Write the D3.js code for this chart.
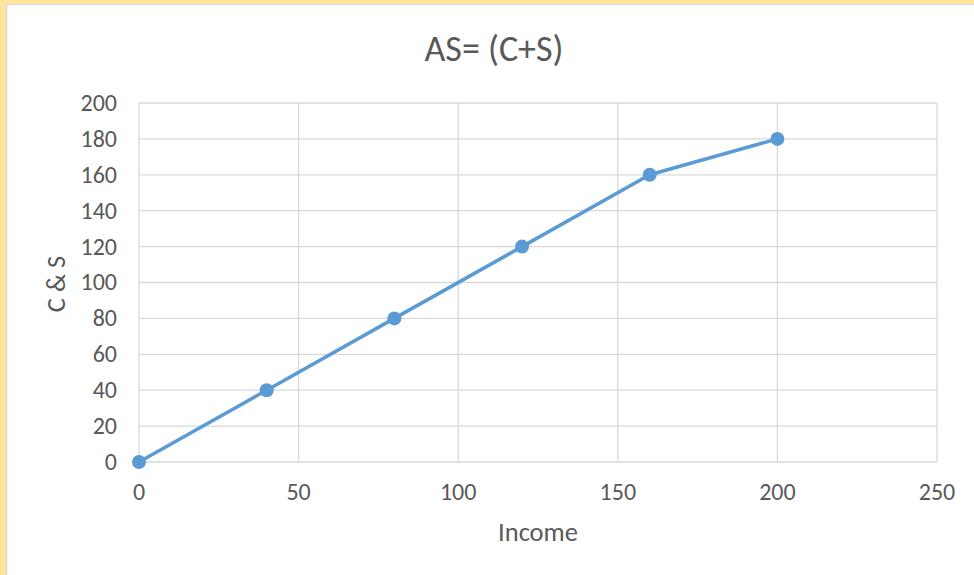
<!DOCTYPE html>
<html>
<head>
<meta charset="utf-8">
<script src="https://cdn.jsdelivr.net/npm/d3@7"></script>
<style>
  body { margin: 0; background: #fff; }
  svg text { font-family: Carlito, Calibri, "Open Sans", "Liberation Sans", sans-serif; fill: #595959; }
</style>
</head>
<body>
<svg id="chart" width="974" height="575"></svg>
<script>
// data
const income = [0, 40, 80, 120, 160, 200]
const cs = [0, 40, 80, 120, 160, 180]
const xTicks = [0, 50, 100, 150, 200, 250]
const yTicks = [0, 20, 40, 60, 80, 100, 120, 140, 160, 180, 200]

const svg = d3.select('#chart')

// outer frame
svg.append('rect').attr('x', 0).attr('y', 0).attr('width', 974).attr('height', 575).attr('fill', '#FFE699')
svg.append('rect').attr('x', 6.5).attr('y', 4.5).attr('width', 980).attr('height', 590)
    .attr('fill', '#fff').attr('stroke', '#d9d9d9').attr('stroke-width', 1.5)

const plotL = 139, plotR = 937, plotT = 103, plotB = 462

const x = d3.scaleLinear().domain([0, 250]).range([plotL, plotR])
const y = d3.scaleLinear().domain([0, 200]).range([plotB, plotT])

// gridlines
svg.append('g').selectAll('line').data(yTicks).enter().append('line')
    .attr('x1', plotL).attr('x2', plotR)
    .attr('y1', d => y(d)).attr('y2', d => y(d))
    .attr('stroke', '#d9d9d9').attr('stroke-width', 1.3)

svg.append('g').selectAll('line').data(xTicks).enter().append('line')
    .attr('y1', plotT).attr('y2', plotB)
    .attr('x1', d => x(d)).attr('x2', d => x(d))
    .attr('stroke', '#d9d9d9').attr('stroke-width', 1.3)

// tick labels
svg.append('g').selectAll('text').data(yTicks).enter().append('text')
    .attr('x', plotL - 22).attr('y', d => y(d))
    .attr('dy', '0.33em').attr('text-anchor', 'end')
    .attr('font-size', 24).text(d => d)

svg.append('g').selectAll('text').data(xTicks).enter().append('text')
    .attr('x', d => x(d)).attr('y', plotB + 38)
    .attr('text-anchor', 'middle')
    .attr('font-size', 24).text(d => d)

// titles
svg.append('text').attr('x', 494).attr('y', 61).attr('text-anchor', 'middle')
    .attr('font-size', 36).text('AS= (C+S)')

svg.append('text').attr('x', 538).attr('y', 541).attr('text-anchor', 'middle')
    .attr('font-size', 26.5).text('Income')

svg.append('text').attr('transform', 'translate(65,284) rotate(-90)')
    .attr('text-anchor', 'middle').attr('font-size', 26.5).text('C & S')

// series
const points = income.map((d, i) => ({ x: d, y: cs[i] }))

const line = d3.line().x(d => x(d.x)).y(d => y(d.y))

svg.append('path').datum(points)
    .attr('d', line)
    .attr('fill', 'none')
    .attr('stroke', '#5B9BD5')
    .attr('stroke-width', 3.5)
    .attr('stroke-linejoin', 'round')

svg.append('g').selectAll('circle').data(points).enter().append('circle')
    .attr('cx', d => x(d.x)).attr('cy', d => y(d.y))
    .attr('r', 7).attr('fill', '#5B9BD5')
</script>
</body>
</html>
